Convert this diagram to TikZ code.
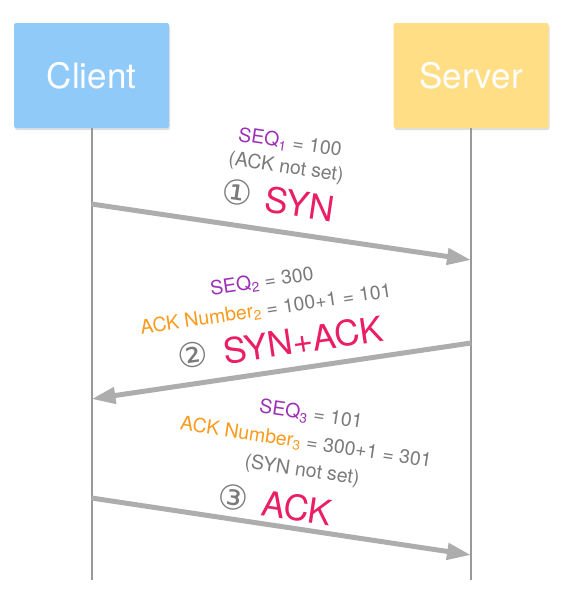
\documentclass[tikz,border=0pt]{standalone}
\usepackage{fontspec}
\setmainfont{TeX Gyre Heros}
\newfontfamily\circfont{DejaVu Sans}
\usepackage{xcolor}
\usepackage{tikz}
\usetikzlibrary{positioning, arrows.meta, shadows}

\definecolor{clientblue}{HTML}{90CAF9}
\definecolor{serveryellow}{HTML}{FFDE85}
\definecolor{linegray}{HTML}{999999}
\definecolor{arrowgray}{HTML}{ADADAD}
\definecolor{txtgray}{HTML}{7A7A7A}
\definecolor{seqpurple}{HTML}{9C31B5}
\definecolor{ackorange}{HTML}{F99A1C}
\definecolor{flagred}{HTML}{E91E63}

\begin{document}
\begin{tikzpicture}[
    x=1pt, y=-1pt,
    box/.style={rectangle, rounded corners=2pt, minimum width=155pt, minimum height=105pt,
        text=white, font=\fontsize{35}{40}\selectfont,
        drop shadow={opacity=0.25, shadow xshift=1pt, shadow yshift=-2pt}},
    lifeline/.style={draw=linegray, line width=2pt},
    arrow/.style={draw=arrowgray, line width=5pt, -{Triangle[length=24pt, width=16pt]}},
    info/.style={text=txtgray, inner sep=0pt, font=\fontsize{19.5}{22}\selectfont},
    flag/.style={text=flagred, inner sep=0pt, font=\fontsize{35}{40}\selectfont},
    circnum/.style={text=txtgray, inner sep=0pt, font=\circfont\fontsize{34}{36}\selectfont}
]
\useasboundingbox (0,0) rectangle (566,590);
\node[box, fill=clientblue] (CLIENT) at (91.5,75.5) {Client};
\node[box, fill=serveryellow] (SERVER) at (471,75.5) {Server};
\coordinate (CLIENTEND) at (91.5,580);
\coordinate (SERVEREND) at (471,580);
\draw [lifeline] (CLIENT.south) -- (CLIENTEND);
\draw [lifeline] (SERVER.south) -- (SERVEREND);

% step 1
\coordinate (C1) at (91.5,204);
\coordinate (S1) at (471,260);
\node[info, rotate=-8.4] (SEQ1) at (290,143) {\textcolor{seqpurple}{SEQ\textsubscript{1}} = 100};
\node[info, rotate=-8.4] (ACKNOTSET) at (286,168) {(ACK not set)};
\node[circnum, rotate=-8.4] (NUM1) at (237,192) {①};
\node[flag, rotate=-8.4] (SYN) at (300,204) {SYN};
\draw [arrow] (C1) -- (S1);

% step 2
\coordinate (S2) at (471,343);
\coordinate (C2) at (91.5,399);
\node[info, rotate=8.4] (SEQ2) at (262,282) {\textcolor{seqpurple}{SEQ\textsubscript{2}} = 300};
\node[info, rotate=8.4] (ACKNUM2) at (266,310) {\textcolor{ackorange}{ACK Number\textsubscript{2}} = 100+1 = 101};
\node[circnum, rotate=8.4] (NUM2) at (193,355) {②};
\node[flag, rotate=8.4] (SYNACK) at (303,340) {SYN+ACK};
\draw [arrow] (S2) -- (C2);

% step 3
\coordinate (C3) at (91.5,498);
\coordinate (S3) at (471,555);
\node[info, rotate=-8.5] (SEQ3) at (311,415) {\textcolor{seqpurple}{SEQ\textsubscript{3}} = 101};
\node[info, rotate=-8.5] (ACKNUM3) at (306,443) {\textcolor{ackorange}{ACK Number\textsubscript{3}} = 300+1 = 301};
\node[info, rotate=-8.5] (SYNNOTSET) at (302,471) {(SYN not set)};
\node[circnum, rotate=-8.5] (NUM3) at (233,497) {③};
\node[flag, rotate=-8.5] (ACK) at (297,508) {ACK};
\draw [arrow] (C3) -- (S3);

\end{tikzpicture}
\end{document}
